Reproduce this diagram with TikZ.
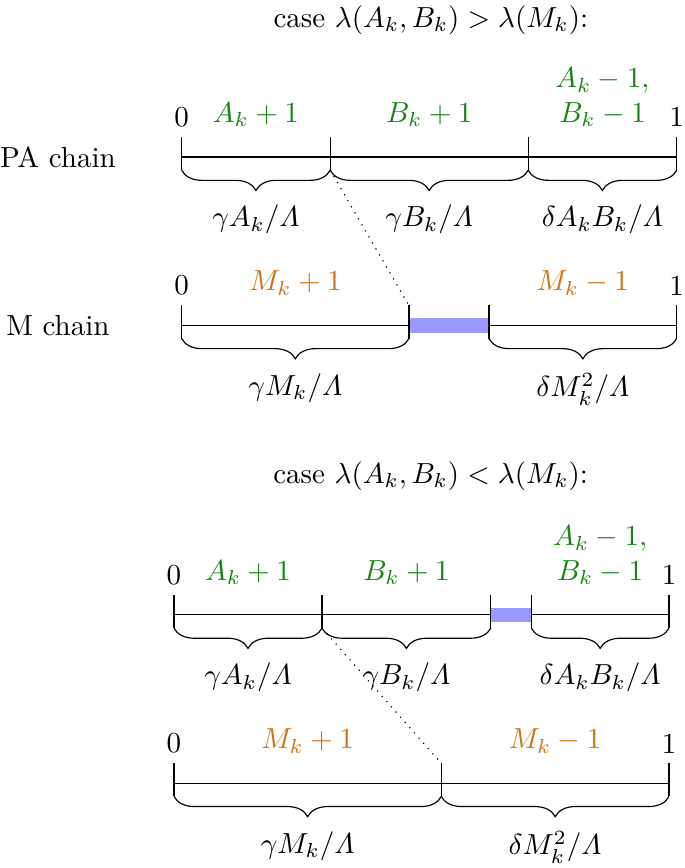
\documentclass[tikz,border=0pt]{standalone}
\usepackage{amsmath}
\usetikzlibrary{decorations.pathreplacing}
\definecolor{pagreen}{RGB}{22,132,22}
\definecolor{morange}{RGB}{206,116,26}

\begin{document}
\begin{tikzpicture}[
        chainbrace/.style={decorate, decoration={brace, mirror, amplitude=7pt}},
        pa/.style={text=pagreen},
        mm/.style={text=morange},
        gap/.style={draw=blue!40, line width=5pt},
    ]
    \useasboundingbox (-2.202, 1.903) rectangle (6.10, -8.618);

    % case 1
    \node at (3.02, 1.66) (t1) {case $\lambda(A_k, B_k) > \lambda(M_k)$:};
    \node at (-1.5, 0)     (pa) {PA chain};
    \node at (-1.5, -2.04) (m)  {M chain};

    % PA chain
    \draw (0, 0) -- (6, 0);
    \foreach \x/\i in {0/1, 1.8/2, 4.2/3, 6/4}
        \draw (\x, 0.24) coordinate (p\i t) -- (\x, -0.16) coordinate (p\i b);
    \node[above] at (p1t) (p0) {0};
    \node[above] at (p4t) (p1) {1};
    \node[pa, above] at (0.9, 0.24) (pA) {$A_k+1$};
    \node[pa, above] at (3.0, 0.24) (pB) {$B_k+1$};
    \node[pa, above, align=center] at (5.1, 0.24) (pD) {$A_k-1,$\\$B_k-1$};
    \draw[chainbrace] (p1b) -- (p2b) node[midway, below=8.5pt] (gA) {$\gamma A_k/\varLambda$};
    \draw[chainbrace] (p2b) -- (p3b) node[midway, below=8.5pt] (gB) {$\gamma B_k/\varLambda$};
    \draw[chainbrace] (p3b) -- (p4b) node[midway, below=8.5pt] (dAB) {$\delta A_k B_k/\varLambda$};

    % M chain
    \draw (0, -2.04) -- (6, -2.04);
    \draw[gap] (2.755, -2.04) -- (3.725, -2.04);
    \foreach \x/\i in {0/1, 2.755/2, 3.725/3, 6/4}
        \draw (\x, -1.80) coordinate (m\i t) -- (\x, -2.20) coordinate (m\i b);
    \node[above] at (m1t) (m0) {0};
    \node[above] at (m4t) (m1) {1};
    \node[mm, above] at (1.378, -1.80) (mP) {$M_k+1$};
    \node[mm, above] at (4.862, -1.80) (mN) {$M_k-1$};
    \draw[chainbrace] (m1b) -- (m2b) node[midway, below=8.5pt] (gM) {$\gamma M_k/\varLambda$};
    \draw[chainbrace] (m3b) -- (m4b) node[midway, below=8.5pt] (dM) {$\delta M_k^2/\varLambda$};

    \draw[dotted] (p2b) -- (m2t);

    % case 2
    \begin{scope}[shift={(-0.093, -5.55)}]
        \node at (3.11, 1.68) (t2) {case $\lambda(A_k, B_k) < \lambda(M_k)$:};

        % PA chain
        \draw (0, 0) -- (6, 0);
        \draw[gap] (3.84, 0) -- (4.33, 0);
        \foreach \x/\i in {0/1, 1.794/2, 3.84/3, 4.33/4, 6/5}
            \draw (\x, 0.24) coordinate (q\i t) -- (\x, -0.16) coordinate (q\i b);
        \node[above] at (q1t) (q0) {0};
        \node[above] at (q5t) (q1) {1};
        \node[pa, above] at (0.897, 0.24) (qA) {$A_k+1$};
        \node[pa, above] at (2.817, 0.24) (qB) {$B_k+1$};
        \node[pa, above, align=center] at (5.165, 0.24) (qD) {$A_k-1,$\\$B_k-1$};
        \draw[chainbrace] (q1b) -- (q2b) node[midway, below=8.5pt] (hA) {$\gamma A_k/\varLambda$};
        \draw[chainbrace] (q2b) -- (q3b) node[midway, below=8.5pt] (hB) {$\gamma B_k/\varLambda$};
        \draw[chainbrace] (q4b) -- (q5b) node[midway, below=8.5pt] (eAB) {$\delta A_k B_k/\varLambda$};

        % M chain
        \draw (0, -2.04) -- (6, -2.04);
        \foreach \x/\i in {0/1, 3.24/2, 6/3}
            \draw (\x, -1.80) coordinate (n\i t) -- (\x, -2.20) coordinate (n\i b);
        \node[above] at (n1t) (n0) {0};
        \node[above] at (n3t) (n1) {1};
        \node[mm, above] at (1.62, -1.80) (nP) {$M_k+1$};
        \node[mm, above] at (4.62, -1.80) (nN) {$M_k-1$};
        \draw[chainbrace] (n1b) -- (n2b) node[midway, below=8.5pt] (hM) {$\gamma M_k/\varLambda$};
        \draw[chainbrace] (n2b) -- (n3b) node[midway, below=8.5pt] (eM) {$\delta M_k^2/\varLambda$};

        \draw[dotted] (q2b) -- (n2t);
    \end{scope}

\end{tikzpicture}
\end{document}
